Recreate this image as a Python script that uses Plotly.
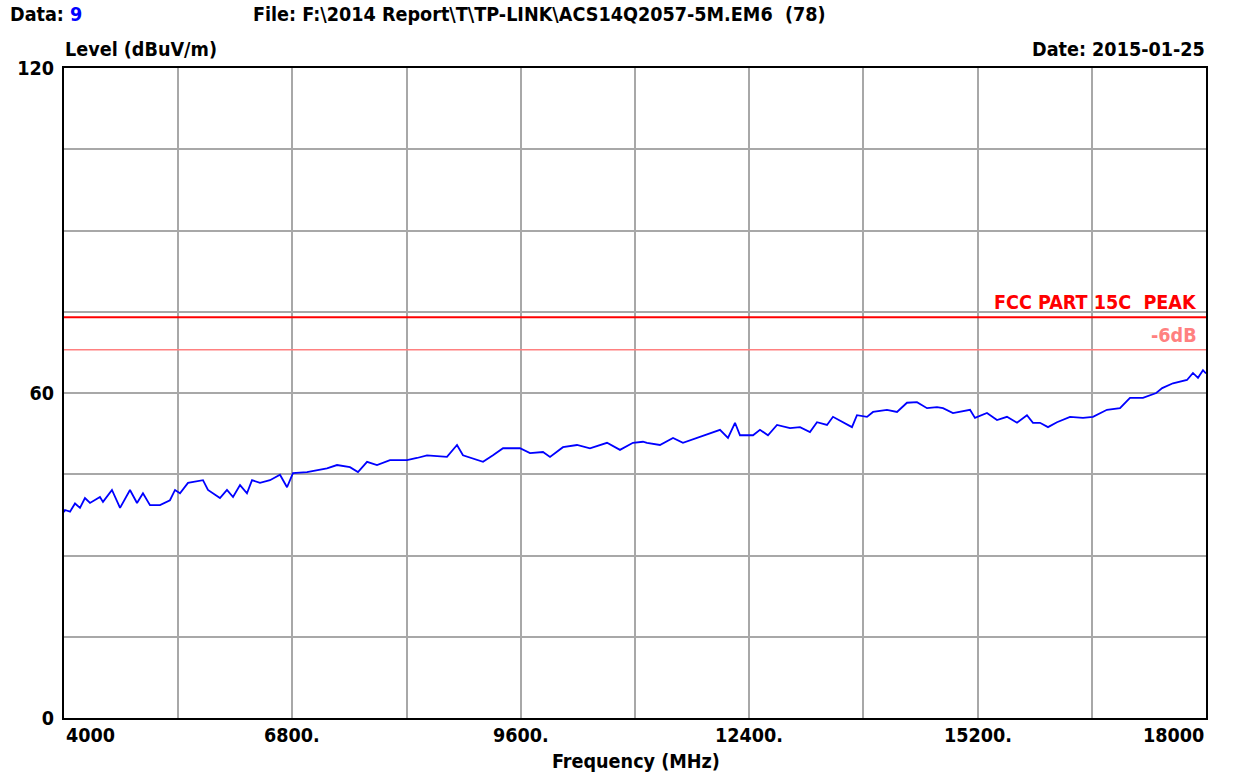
import plotly.graph_objects as go

# ---- data ----
freq_mhz = [
    4000, 4012, 4074, 4135, 4196, 4257, 4319, 4441, 4478, 4588, 4687, 4809, 4895, 4968,
    5054, 5177, 5299, 5361, 5422, 5520, 5704, 5765, 5912, 5998, 6072, 6158, 6243, 6305,
    6403, 6525, 6648, 6734, 6807, 6979, 7224, 7347, 7506, 7604, 7715, 7837, 7996, 8205,
    8327, 8450, 8695, 8818, 8891, 9137, 9259, 9382, 9590, 9713, 9872, 9958, 10117, 10289,
    10448, 10657, 10816, 10975, 11098, 11147, 11306, 11466, 11588, 11797, 11919, 12042,
    12140, 12226, 12287, 12447, 12532, 12630, 12741, 12900, 13023, 13145, 13231, 13354,
    13427, 13550, 13660, 13721, 13844, 13918, 14089, 14212, 14334, 14457, 14580, 14702,
    14776, 14898, 15107, 15168, 15315, 15438, 15560, 15683, 15805, 15879, 15965, 16063,
    16173, 16333, 16492, 16614, 16786, 16946, 17068, 17227, 17390, 17463, 17595, 17767,
    17840, 17902, 17963, 18000,
]
level_dbuv = [
    38.0, 38.4, 38.1, 39.6, 38.8, 40.6, 39.7, 40.8, 39.9, 42.1, 38.8, 42.1, 39.7, 41.5,
    39.3, 39.3, 40.2, 42.1, 41.5, 43.4, 43.9, 42.1, 40.6, 42.1, 40.8, 43.0, 41.5, 43.9,
    43.4, 43.9, 44.9, 42.6, 45.2, 45.4, 46.1, 46.7, 46.3, 45.4, 47.3, 46.7, 47.6, 47.6,
    48.0, 48.5, 48.2, 50.4, 48.5, 47.3, 48.5, 49.8, 49.8, 48.9, 49.1, 48.2, 50.0, 50.4,
    49.8, 50.8, 49.5, 50.8, 51.0, 50.8, 50.4, 51.7, 50.8, 51.9, 52.6, 53.2,
    51.7, 54.5, 52.2, 52.2, 53.2, 52.2, 54.1, 53.5, 53.7, 52.8, 54.6, 54.1,
    55.6, 54.6, 53.7, 55.9, 55.6, 56.5, 56.9, 56.5, 58.2, 58.3, 57.2, 57.4,
    57.2, 56.3, 56.9, 55.4, 56.3, 55.0, 55.6, 54.5, 55.9, 54.5, 54.5, 53.7,
    54.6, 55.6, 55.4, 55.6, 56.9, 57.2, 59.1, 59.1, 60.0, 60.9, 61.8, 62.4,
    63.7, 62.8, 64.2, 63.6,
]
limit_peak = 74.0
margin_db = 6.0
limit_name = "FCC PART 15C  PEAK"
margin_name = "-6dB"

x_grid = [4000, 5400, 6800, 8200, 9600, 11000, 12400, 13800, 15200, 16600, 18000]
x_tick_text = ["4000", "", "6800.", "", "9600.", "", "12400.", "", "15200.", "", "18000"]
y_grid = [0, 15, 30, 45, 60, 75, 90, 105, 120]
y_tick_text = ["0", "", "", "", "60", "", "", "", "120"]

FONT = "DejaVu Sans Condensed, DejaVu Sans, Arial, sans-serif"
FS = 19.6

fig = go.Figure()
fig.add_trace(go.Scatter(x=[x_grid[0], x_grid[-1]], y=[limit_peak, limit_peak], mode="lines",
                         line=dict(color="#ff0000", width=2), hoverinfo="skip"))
fig.add_trace(go.Scatter(x=[x_grid[0], x_grid[-1]], y=[limit_peak - margin_db] * 2, mode="lines",
                         line=dict(color="#ff8080", width=1.5), hoverinfo="skip"))
fig.add_trace(go.Scatter(x=freq_mhz, y=level_dbuv, mode="lines",
                         line=dict(color="#0000ff", width=1.8)))

fig.update_layout(
    width=1235, height=776,
    margin=dict(l=64, r=29, t=68, b=58),
    paper_bgcolor="white", plot_bgcolor="white",
    showlegend=False,
    font=dict(family=FONT, size=FS, color="black"),
)
fig.update_xaxes(range=[x_grid[0], x_grid[-1]], tickvals=x_grid, showticklabels=False,
                 showgrid=True, gridcolor="#a8a8a8", gridwidth=2, zeroline=False,
                 showline=True, mirror=True, linecolor="black", linewidth=2, ticks="")
fig.update_yaxes(range=[y_grid[0], y_grid[-1]], tickvals=y_grid,
                 ticktext=["<b>%s</b>" % t if t else "" for t in y_tick_text],
                 showgrid=True, gridcolor="#a8a8a8", gridwidth=2, zeroline=False,
                 showline=True, mirror=True, linecolor="black", linewidth=2, ticks="",
                 tickfont=dict(family=FONT, size=FS, color="black"), ticklabelstandoff=4)

ann = []
n = len(x_grid)
for i, (v, t) in enumerate(zip(x_grid, x_tick_text)):
    if not t:
        continue
    anchor = "left" if i == 0 else ("right" if i == n - 1 else "center")
    ann.append(dict(x=v, y=-0.006, xref="x", yref="paper", text="<b>%s</b>" % t,
                    showarrow=False, xanchor=anchor, yanchor="top",
                    font=dict(family=FONT, size=FS, color="black")))


def paper_xy(px, py):
    return (px - 64) / (1235 - 64 - 29), 1 - (py - 68) / (776 - 68 - 58)


def add_text(px, py, text, anchor="left", color="black", yanchor="middle"):
    x, y = paper_xy(px, py)
    ann.append(dict(x=x, y=y, xref="paper", yref="paper", text=text, showarrow=False,
                    xanchor=anchor, yanchor=yanchor,
                    font=dict(family=FONT, size=FS, color=color)))


add_text(8, 15, "<b>Data: <span style='color:#0000ff'>9</span></b>")
add_text(251, 15, "<b>File: F:\\2014 Report\\T\\TP-LINK\\ACS14Q2057-5M.EM6  (78)</b>")
add_text(63, 49, "<b>Level (dBuV/m)</b>")
add_text(1207, 49, "<b>Date: 2015-01-25</b>", anchor="right")
add_text(636, 761, "<b>Frequency (MHz)</b>", anchor="center")

x_l, _ = paper_xy(1199, 0)
ann.append(dict(x=x_l, y=limit_peak, xref="paper", yref="y", text="<b>%s</b>" % limit_name,
                showarrow=False, xanchor="right", yanchor="bottom", yshift=1,
                font=dict(family=FONT, size=FS, color="#ff0000")))
ann.append(dict(x=x_l, y=limit_peak - margin_db, xref="paper", yref="y", text="<b>%s</b>" % margin_name,
                showarrow=False, xanchor="right", yanchor="bottom", yshift=1,
                font=dict(family=FONT, size=FS, color="#ff8080")))

fig.update_layout(annotations=ann)
fig.write_html("out.html", config={"displayModeBar": False},
               post_script="document.body.style.margin='0';document.body.style.overflow='hidden';")
